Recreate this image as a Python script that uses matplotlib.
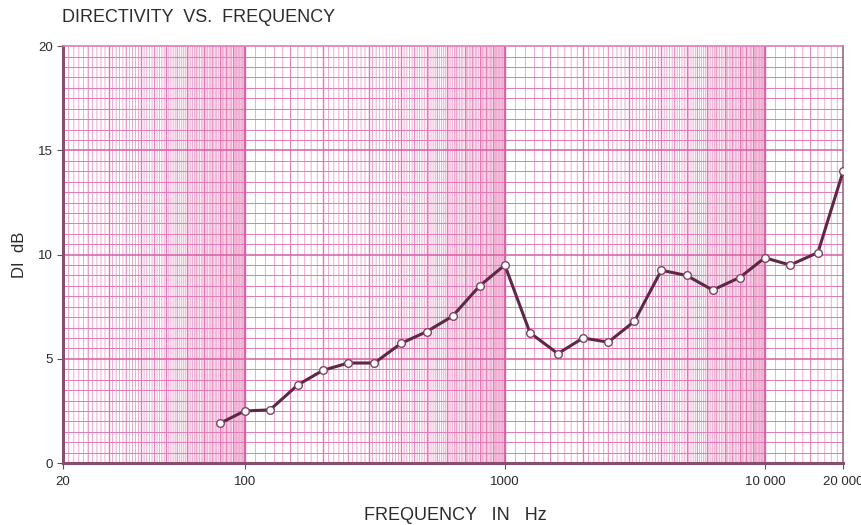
import matplotlib
matplotlib.use("Agg")
import matplotlib.pyplot as plt
from matplotlib.collections import LineCollection
import numpy as np

# third-octave band centres and measured directivity index
freq_hz = [80, 100, 125, 160, 200, 250, 315, 400, 500, 630, 800, 1000,
           1250, 1600, 2000, 2500, 3150, 4000, 5000, 6300, 8000, 10000,
           12500, 16000, 20000]
di_db = [1.9, 2.5, 2.55, 3.75, 4.45, 4.8, 4.8, 5.75, 6.3, 7.05, 8.5, 9.5,
         6.25, 5.25, 6.0, 5.8, 6.8, 9.25, 9.0, 8.3, 8.9, 9.85,
         9.5, 10.1, 14.0]

x_ticks = [20, 100, 1000, 10000, 20000]
x_tick_labels = ["20", "100", "1000", "10 000", "20 000"]
y_ticks = [0, 5, 10, 15, 20]

PINK_LIGHT = "#ef9ccb"
PINK_MID = "#e27ab4"
PINK_DARK = "#d65ea2"
INK = "#5f2747"
TEXT = "#2b2b2b"

plt.rcParams["font.family"] = ["Liberation Sans", "DejaVu Sans"]

fig = plt.figure(figsize=(8.62, 5.25), dpi=100)
ax = fig.add_axes([0.0731, 0.118, 0.905, 0.794])
ax.set_xscale("log")
ax.set_xlim(20, 20000)
ax.set_ylim(0, 20)

# log graph paper: fine rulings every 0.1 of a decade unit, heavier at integers
fine, half, whole = [], [], []
for k in range(1, 5):
    for i in range(10, 100):
        f = i / 10 * 10 ** k
        if f < 20 or f > 20000:
            continue
        seg = [(f, 0), (f, 20)]
        if i % 10 == 0:
            whole.append(seg)
        elif i % 5 == 0:
            half.append(seg)
        else:
            fine.append(seg)
ax.add_collection(LineCollection(fine, colors=PINK_LIGHT, linewidths=0.6,
                                 snap=False, zorder=0.9))
ax.add_collection(LineCollection(half, colors=PINK_MID, linewidths=0.7,
                                 snap=False, zorder=0.95))
ax.add_collection(LineCollection(whole, colors=PINK_MID, linewidths=1.0,
                                 zorder=1))

for j in range(1, 40):
    y = j * 0.5
    if j % 10 == 0:
        ax.axhline(y, color=PINK_DARK, lw=1.1, zorder=1)
    else:
        ax.axhline(y, color=PINK_MID, lw=0.7, zorder=1)
for f in (100, 1000, 10000):
    ax.axvline(f, color=PINK_DARK, lw=1.3, zorder=1.1)

ax.plot(freq_hz, di_db, color=INK, lw=2.2, zorder=3,
        marker="o", ms=5.5, mfc="white", mec="#7d4563", mew=1.0)

ax.set_xticks(x_ticks)
ax.set_xticklabels(x_tick_labels)
ax.xaxis.set_minor_locator(matplotlib.ticker.NullLocator())
ax.set_yticks(y_ticks)
ax.tick_params(axis="both", labelsize=9.5, colors="#555555", labelcolor=TEXT,
               length=4, width=0.8)
ax.tick_params(axis="x", pad=5)

for side in ("left", "bottom"):
    ax.spines[side].set_color("#8a4d6c")
    ax.spines[side].set_linewidth(2.2)
ax.spines["top"].set_color(PINK_MID)
ax.spines["top"].set_linewidth(1.2)
ax.spines["right"].set_color("#9a6a85")
ax.spines["right"].set_linewidth(1.2)

fig.text(0.072, 0.967, "DIRECTIVITY  VS.  FREQUENCY", fontsize=13,
         color=TEXT, ha="left", va="center")
fig.text(0.528, 0.019, "FREQUENCY   IN   Hz", fontsize=13,
         color=TEXT, ha="center", va="center")
fig.text(0.023, 0.514, "DI  dB", fontsize=12, rotation=90,
         color=TEXT, ha="center", va="center")

fig.savefig("out.png", dpi=100)
